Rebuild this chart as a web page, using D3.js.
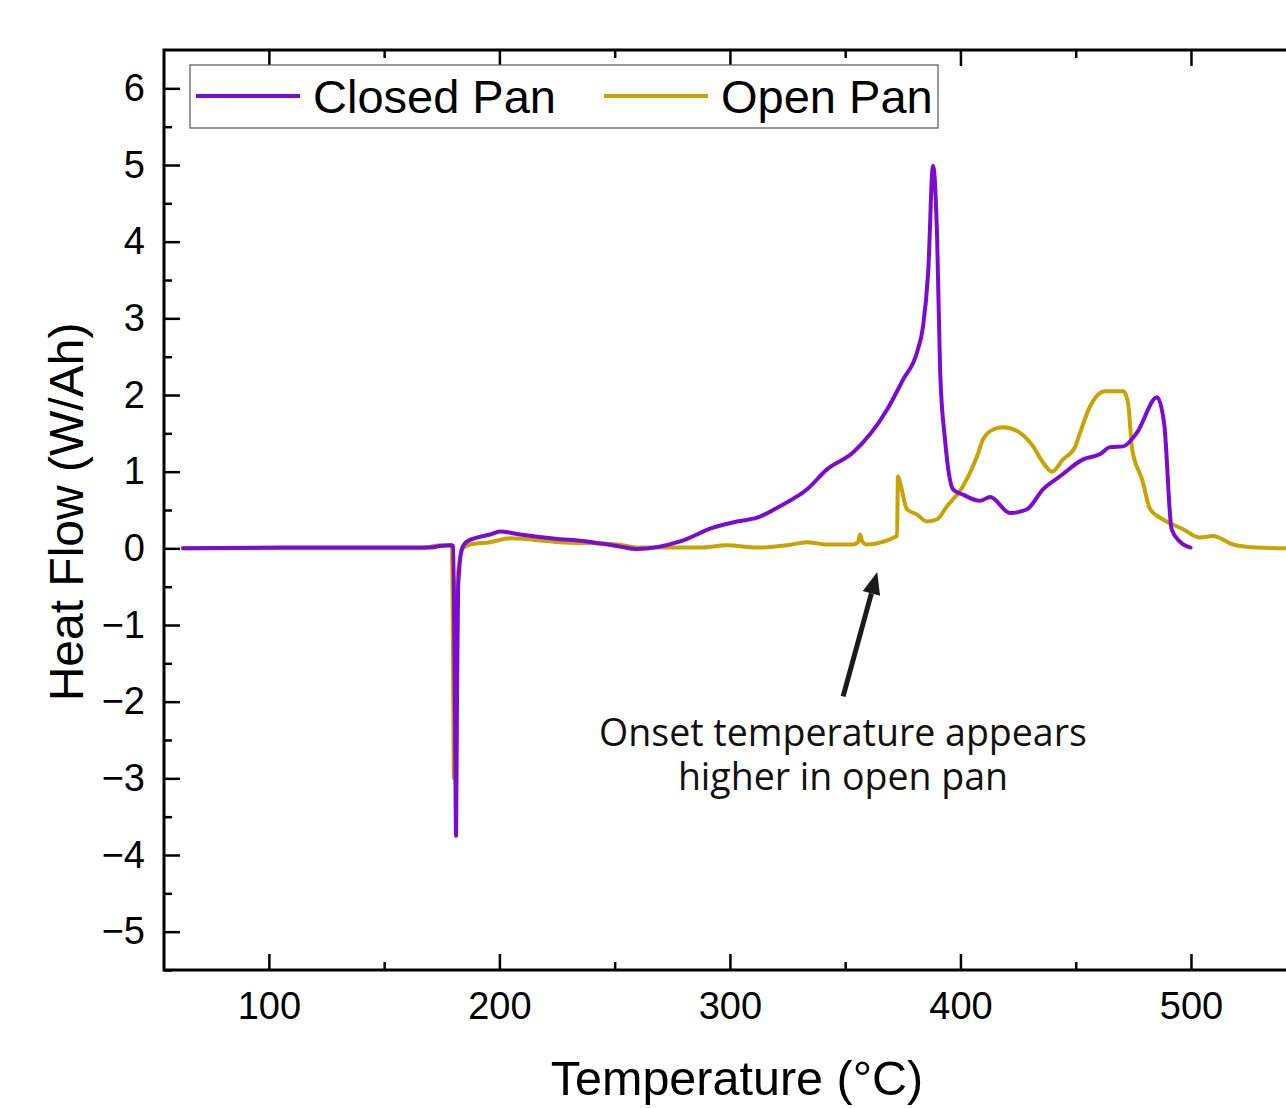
<!DOCTYPE html>
<html>
<head>
<meta charset="utf-8">
<script src="https://cdn.jsdelivr.net/npm/d3@7"></script>
<style>
  body { margin: 0; background: #fff; }
  svg { display: block; }
</style>
</head>
<body>
<svg id="chart" width="1286" height="1108"></svg>
<script>
// Closed pan trace (temperature in °C, heat flow in W/Ah)
const closedT = [62.7, 113, 169.9, 174.2, 179.4, 179.9, 180.7, 181.2, 181.6, 182.1, 183.8, 186.0, 195.9, 200.3, 209, 226.3, 235, 251, 259.7, 278.4, 292.7, 303.1, 311.8, 321.7, 333.5, 342.1, 353.4, 368.2, 375.1, 381.2, 383.8, 386, 388.1, 389.9, 391.2, 393.3, 396.8, 401.1, 408.5, 412.9, 421.5, 428.9, 435.8, 443.2, 453.2, 460.6, 464.9, 470.6, 476.6, 485.3, 488.4, 491.6, 495.1, 499.8];
const closedV = [0, 0.01, 0.01, 0.03, 0.04, 0.03, -2.0, -3.75, -2.0, -0.5, 0.0, 0.09, 0.18, 0.22, 0.18, 0.12, 0.1, 0.03, -0.01, 0.09, 0.27, 0.35, 0.4, 0.55, 0.77, 1.03, 1.25, 1.81, 2.2, 2.56, 2.9, 3.6, 4.99, 4.03, 2.3, 1.42, 0.77, 0.7, 0.62, 0.67, 0.46, 0.51, 0.77, 0.94, 1.16, 1.23, 1.32, 1.33, 1.51, 1.97, 1.62, 0.25, 0.09, 0.01];

// Open pan trace
const openT = [62.7, 165.6, 174.2, 179.4, 179.9, 180.3, 180.7, 182.1, 184.2, 187.3, 195.9, 204.6, 226.3, 251, 260.9, 286.9, 298.8, 311.8, 324.8, 333.5, 342.1, 353.4, 355.6, 356.5, 357.3, 359.1, 372.5, 372.9, 373.8, 376.8, 381.2, 385.5, 389.9, 394.2, 401.1, 407.2, 409.8, 414.2, 418.5, 424.6, 431.5, 435.8, 439.7, 444.5, 449.7, 451.9, 456.2, 462.7, 470.6, 472.7, 474.5, 478.8, 482.3, 486.6, 496.6, 503.9, 509.6, 518.3, 528.7, 547.3];
const openV = [0, 0, 0.04, 0.04, -1.5, -3.0, -1.5, -0.3, 0.0, 0.05, 0.08, 0.13, 0.08, 0.05, 0.01, 0.01, 0.04, 0.01, 0.04, 0.08, 0.05, 0.05, 0.08, 0.18, 0.1, 0.05, 0.16, 0.94, 0.86, 0.51, 0.44, 0.35, 0.38, 0.55, 0.81, 1.2, 1.42, 1.55, 1.58, 1.53, 1.33, 1.12, 1.0, 1.16, 1.32, 1.51, 1.85, 2.05, 2.05, 1.9, 1.29, 0.9, 0.51, 0.4, 0.25, 0.14, 0.16, 0.05, 0.01, 0.0];

const seriesNames = ["Closed Pan", "Open Pan"];
const seriesColors = ["#7a0bd0", "#c9a204"];

const xMajor = [100, 200, 300, 400, 500];
const xMinor = [150, 250, 350, 450];
const yMajor = [-5, -4, -3, -2, -1, 0, 1, 2, 3, 4, 5, 6];
const yMinor = [-5.5, -4.5, -3.5, -2.5, -1.5, -0.5, 0.5, 1.5, 2.5, 3.5, 4.5, 5.5];

const noteLines = ["Onset temperature appears", "higher in open pan"];

const plot = { left: 164, top: 50, right: 1300, bottom: 970 };

const svg = d3.select("#chart");

const x = d3.scaleLinear().domain([54.5, 547.3]).range([plot.left, plot.right]);
const y = d3.scaleLinear().domain([-5.5, 6.5]).range([plot.bottom, plot.top]);

svg.append("defs").append("clipPath").attr("id", "clip")
  .append("rect")
  .attr("x", plot.left).attr("y", plot.top)
  .attr("width", plot.right - plot.left).attr("height", plot.bottom - plot.top);

// data lines
const line = d3.line().curve(d3.curveMonotoneX).x(d => x(d[0])).y(d => y(d[1]));
const traces = [
  d3.zip(closedT, closedV),
  d3.zip(openT, openV)
];

// draw open pan first so closed pan sits on top
[1, 0].forEach(function(i) {
  svg.append("path")
    .datum(traces[i])
    .attr("clip-path", "url(#clip)")
    .attr("fill", "none")
    .attr("stroke", seriesColors[i])
    .attr("stroke-width", 4)
    .attr("stroke-linejoin", "round")
    .attr("stroke-linecap", "round")
    .attr("d", line);
});

// axes: ticks point inward, labels only on bottom and left
const tickFont = "'Liberation Sans', Arial, sans-serif";

const bottomAxis = d3.axisBottom(x).tickValues(xMajor).tickSize(-16).tickPadding(22).tickFormat(d3.format("d"));
const gx = svg.append("g").attr("transform", `translate(0,${plot.bottom})`).call(bottomAxis);
gx.selectAll("text").attr("font-size", 38).attr("font-family", tickFont).attr("fill", "#000").attr("dy", "0.7em");

svg.append("g").attr("transform", `translate(0,${plot.bottom})`)
  .call(d3.axisBottom(x).tickValues(xMinor).tickSize(-8).tickFormat(""));

svg.append("g").attr("transform", `translate(0,${plot.top})`)
  .call(d3.axisTop(x).tickValues(xMajor).tickSize(-16).tickFormat(""));
svg.append("g").attr("transform", `translate(0,${plot.top})`)
  .call(d3.axisTop(x).tickValues(xMinor).tickSize(-8).tickFormat(""));

const leftAxis = d3.axisLeft(y).tickValues(yMajor).tickSize(-16).tickPadding(19)
  .tickFormat(d => d < 0 ? "\u2212" + Math.abs(d) : d);
const gy = svg.append("g").attr("transform", `translate(${plot.left},0)`).call(leftAxis);
gy.selectAll("text").attr("font-size", 38).attr("font-family", tickFont).attr("fill", "#000");

svg.append("g").attr("transform", `translate(${plot.left},0)`)
  .call(d3.axisLeft(y).tickValues(yMinor).tickSize(-8).tickFormat(""));

svg.selectAll(".domain").remove();
svg.selectAll(".tick line").attr("stroke", "#000").attr("stroke-width", 2.5);

// frame
svg.append("rect")
  .attr("x", plot.left).attr("y", plot.top)
  .attr("width", plot.right - plot.left).attr("height", plot.bottom - plot.top)
  .attr("fill", "none").attr("stroke", "#000").attr("stroke-width", 3);

// axis titles
svg.append("text")
  .attr("x", 737).attr("y", 1095)
  .attr("text-anchor", "middle")
  .attr("font-family", tickFont).attr("font-size", 48.5)
  .text("Temperature (°C)");

svg.append("text")
  .attr("transform", "translate(83,512) rotate(-90)")
  .attr("text-anchor", "middle")
  .attr("font-family", tickFont).attr("font-size", 48)
  .text("Heat Flow (W/Ah)");

// legend
const legend = svg.append("g");
legend.append("rect")
  .attr("x", 190).attr("y", 65).attr("width", 748).attr("height", 63)
  .attr("fill", "#fff").attr("stroke", "#555").attr("stroke-width", 1.2);

const legendX = [196, 604];
seriesNames.forEach(function(name, i) {
  legend.append("line")
    .attr("x1", legendX[i]).attr("x2", legendX[i] + 104)
    .attr("y1", 96).attr("y2", 96)
    .attr("stroke", seriesColors[i]).attr("stroke-width", 4);
  legend.append("text")
    .attr("x", legendX[i] + 117).attr("y", 113)
    .attr("font-family", tickFont).attr("font-size", 47)
    .text(name);
});

// annotation arrow and note
const noteFont = "'Open Sans', 'Noto Sans', sans-serif";
const tail = [x(349.1), y(-1.93)];
const tip = [x(363.9), y(-0.31)];
const ang = Math.atan2(tip[1] - tail[1], tip[0] - tail[0]);
const headLen = 22, headW = 9;
const baseX = tip[0] - headLen * Math.cos(ang), baseY = tip[1] - headLen * Math.sin(ang);

svg.append("line")
  .attr("x1", tail[0]).attr("y1", tail[1])
  .attr("x2", baseX).attr("y2", baseY)
  .attr("stroke", "#1a1a1a").attr("stroke-width", 5);

svg.append("path")
  .attr("d", d3.line()([
    tip,
    [baseX + headW * Math.sin(ang), baseY - headW * Math.cos(ang)],
    [baseX - headW * Math.sin(ang), baseY + headW * Math.cos(ang)]
  ]) + "Z")
  .attr("fill", "#1a1a1a");

// two-line note as one text block
const note = svg.append("text")
  .attr("x", 843).attr("y", 746)
  .attr("text-anchor", "middle")
  .attr("font-family", noteFont).attr("font-size", 37.5)
  .attr("fill", "#111");
noteLines.forEach(function(t, i) {
  note.append("tspan")
    .attr("x", 843).attr("dy", i === 0 ? 0 : 44)
    .text(t);
});
</script>
</body>
</html>
